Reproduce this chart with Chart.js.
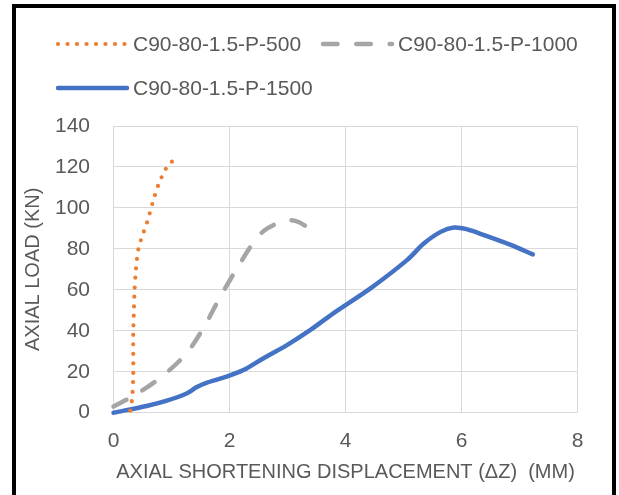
<!DOCTYPE html>
<html>
<head>
<meta charset="utf-8">
<script src="https://cdn.jsdelivr.net/npm/chart.js@4/dist/chart.umd.min.js"></script>
<style>
  body { margin: 0; background: #fff; overflow: hidden; }
  #wrap { position: relative; width: 619px; height: 495px; }
  #frame { position: absolute; left: 12px; top: 4px; width: 596px; height: 600px; border: 4px solid #000; pointer-events: none; }
</style>
</head>
<body>
<div id="wrap">
  <canvas id="myChart" width="619" height="495"></canvas>
  <div id="frame"></div>
</div>
<script>
// C90-80-1.5-P-500
var p500_x = [0.29, 0.32, 0.34, 0.34, 0.35, 0.36, 0.39, 0.43, 0.48, 0.58, 0.67, 0.77, 0.90, 1.00, 1.15];
var p500_y = [1, 7, 17, 38, 48, 58, 71, 80, 85, 93, 102, 111, 119, 122.5, 123];
// C90-80-1.5-P-1000
var p1000_x = [0, 0.37, 0.83, 1.26, 1.58, 1.84, 2.12, 2.41, 2.60, 2.87, 3.05, 3.20, 3.40];
var p1000_y = [3, 8.6, 17.6, 29, 42.8, 56.6, 70, 83, 89, 93, 94, 93, 89.5];
// C90-80-1.5-P-1500
var p1500_x = [0, 0.57, 0.92, 1.26, 1.43, 1.60, 1.95, 2.24, 2.58, 2.99, 3.39, 3.79, 4.43, 5.06, 5.35, 5.64, 5.87, 6.10, 6.39, 6.86, 7.23];
var p1500_y = [0, 3.3, 5.9, 9.4, 12.4, 14.6, 17.6, 20.8, 26.5, 33, 40.3, 48.5, 60.7, 74.5, 82.6, 88.3, 90.4, 89.5, 86.7, 81.8, 77.3];

var seriesNames = ['C90-80-1.5-P-500', 'C90-80-1.5-P-1000', 'C90-80-1.5-P-1500'];
var xTicks = [0, 2, 4, 6, 8];
var yTicks = [0, 20, 40, 60, 80, 100, 120, 140];

function toPoints(xs, ys) {
    var pts = [];
    for (var i = 0; i < xs.length; i++) pts.push({x: xs[i], y: ys[i]});
    return pts;
}

var textColor = '#595959';
var gridColor = '#d9d9d9';
var fontName = '"Liberation Sans", Arial, sans-serif';

// legend drawn by hand: two rows, left aligned like the original
var legendPlugin = {
    id: 'handLegend',
    afterDraw: function(chart) {
        var c = chart.ctx;
        var items = [
            {ds: 0, x: 58, y: 44},
            {ds: 1, x: 323, y: 44},
            {ds: 2, x: 58, y: 88}
        ];
        c.save();
        items.forEach(function(it) {
            var d = chart.data.datasets[it.ds];
            c.beginPath();
            c.strokeStyle = d.borderColor;
            c.lineWidth = d.borderWidth;
            c.lineCap = 'round';
            c.setLineDash(d.borderDash || []);
            c.moveTo(it.x, it.y);
            c.lineTo(it.x + 69, it.y);
            c.stroke();
            c.setLineDash([]);
            c.fillStyle = textColor;
            c.font = '21px ' + fontName;
            c.textBaseline = 'middle';
            c.fillText(d.label, it.x + 75, it.y + 1);
        });
        c.restore();
    }
};

var ctx = document.getElementById('myChart');
var myChart = new Chart(ctx, {
    type: 'scatter',
    data: {
        datasets: [{
            label: seriesNames[0],
            data: toPoints(p500_x, p500_y),
            borderColor: '#ED7D31',
            borderWidth: 4.2,
            borderDash: [0, 9.5],
            borderCapStyle: 'round'
        }, {
            label: seriesNames[1],
            data: toPoints(p1000_x, p1000_y),
            borderColor: '#A5A5A5',
            borderWidth: 4.5,
            borderDash: [14.5, 18.8],
            borderCapStyle: 'round'
        }, {
            label: seriesNames[2],
            data: toPoints(p1500_x, p1500_y),
            borderColor: '#4472C4',
            borderWidth: 4.5,
            borderCapStyle: 'round'
        }]
    },
    options: {
        responsive: false,
        animation: false,
        devicePixelRatio: 1,
        showLine: true,
        elements: {
            point: { radius: 0, hoverRadius: 0 },
            line: { tension: 0.3, fill: false }
        },
        datasets: { scatter: { clip: false } },
        layout: {
            padding: { left: 0, right: 41.5, top: 126, bottom: 0 }
        },
        plugins: {
            legend: { display: false },
            tooltip: { enabled: false }
        },
        scales: {
            x: {
                type: 'linear',
                min: xTicks[0],
                max: xTicks[xTicks.length - 1],
                afterBuildTicks: function(axis) {
                    axis.ticks = xTicks.map(function(v) { return {value: v}; });
                },
                afterFit: function(axis) { axis.height = 82.3; },
                grid: { color: gridColor, lineWidth: 1, drawTicks: false },
                border: { color: gridColor },
                ticks: { color: textColor, font: { family: fontName, size: 21 }, padding: 16 },
                title: {
                    display: true,
                    text: 'AXIAL SHORTENING DISPLACEMENT (ΔZ)  (MM)',
                    color: textColor,
                    font: { family: fontName, size: 20 },
                    padding: { top: 0, bottom: 11 }
                }
            },
            y: {
                type: 'linear',
                min: yTicks[0],
                max: yTicks[yTicks.length - 1],
                afterBuildTicks: function(axis) {
                    axis.ticks = yTicks.map(function(v) { return {value: v}; });
                },
                afterFit: function(axis) { axis.width = 113.5; },
                grid: { color: gridColor, lineWidth: 1, drawTicks: false },
                border: { color: gridColor },
                ticks: { color: textColor, font: { family: fontName, size: 21 }, padding: 23.5 },
                title: {
                    display: true,
                    text: 'AXIAL LOAD (KN)',
                    color: textColor,
                    font: { family: fontName, size: 20 },
                    padding: { top: 21, bottom: 0 }
                }
            }
        }
    },
    plugins: [legendPlugin]
});
</script>
</body>
</html>
